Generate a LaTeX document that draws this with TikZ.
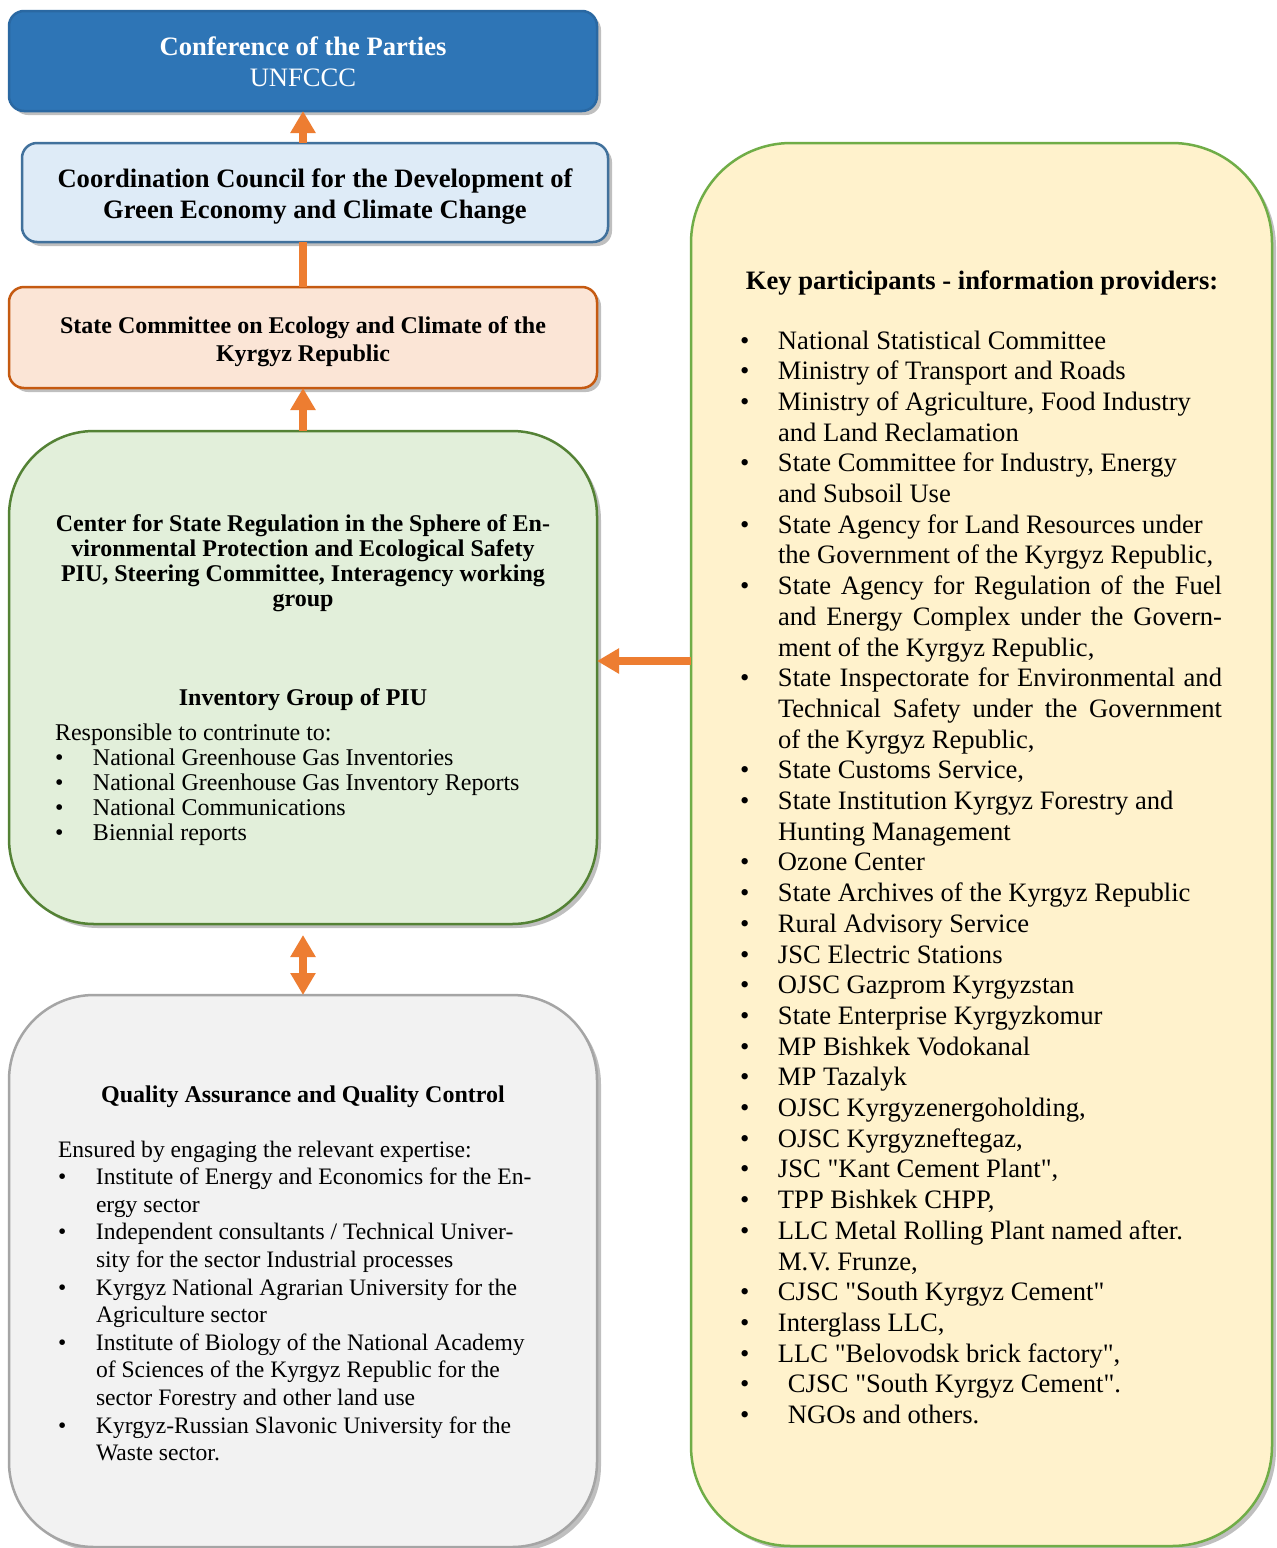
\documentclass[tikz,border=0pt]{standalone}
\usepackage{fontspec}
\setmainfont{Liberation Serif}[Ligatures=TeXOff]
\usetikzlibrary{arrows.meta,shadows,calc}
\definecolor{copfill}{HTML}{2E75B6}
\definecolor{copdraw}{HTML}{2A68A2}
\definecolor{ccdfill}{HTML}{DEEBF7}
\definecolor{ccddraw}{HTML}{41719C}
\definecolor{scefill}{HTML}{FBE5D6}
\definecolor{scedraw}{HTML}{C55A11}
\definecolor{csrfill}{HTML}{E2EFDA}
\definecolor{csrdraw}{HTML}{548235}
\definecolor{qafill}{HTML}{F2F2F2}
\definecolor{qadraw}{HTML}{A5A5A5}
\definecolor{keyfill}{HTML}{FFF2CC}
\definecolor{keydraw}{HTML}{70AD47}
\definecolor{orangearr}{HTML}{ED7D31}
\newlength\bind
\newcommand\bl[1]{\makebox[\bind][l]{\textbullet}#1}
\newcommand\ct[1]{\hspace*{\bind}#1}
\newcommand\js[1]{\makebox[444pt][s]{#1}}
\newcommand\fA{\fontsize{26.6}{31}\selectfont}
\newcommand\fB{\fontsize{24}{28}\selectfont}
\tikzset{
  box/.style={draw, line width=2.5pt, anchor=north west, inner sep=0pt, outer sep=0pt,
    drop shadow={shadow xshift=4pt, shadow yshift=-4pt, opacity=0.25, fill=black}},
  txt/.style={inner sep=0pt, outer sep=0pt},
  arr/.style={draw=orangearr, line width=8pt, -{Triangle[width=24pt,length=22pt]}},
  darr/.style={draw=orangearr, line width=8pt, {Triangle[width=24pt,length=22pt]}-{Triangle[width=24pt,length=22pt]}},
  lnk/.style={draw=orangearr, line width=8pt},
}
\begin{document}
\begin{tikzpicture}[x=1pt,y=-1pt]
\clip (0,0) rectangle (1277,1548);
\fill[white] (0,0) rectangle (1277,1548);
% boxes
\node[box, fill=copfill, draw=copdraw, rounded corners=15pt, minimum width=588pt, minimum height=100pt] (cop) at (9,11) {};
\node[box, fill=ccdfill, draw=ccddraw, rounded corners=15pt, minimum width=586pt, minimum height=99pt] (ccd) at (22,143) {};
\node[box, fill=scefill, draw=scedraw, rounded corners=15pt, minimum width=588pt, minimum height=101pt] (sce) at (9,287) {};
\node[box, fill=csrfill, draw=csrdraw, rounded corners=85pt, minimum width=588pt, minimum height=493pt] (csr) at (9,431) {};
\node[box, fill=qafill, draw=qadraw, rounded corners=85pt, minimum width=588pt, minimum height=552pt] (qa) at (9,995) {};
\node[box, fill=keyfill, draw=keydraw, rounded corners=100pt, minimum width=581pt, minimum height=1403pt] (key) at (691,143) {};
% connectors
\coordinate (ay) at (0,661);
\draw[arr] (ccd.north -| cop.south) -- (cop.south);
\draw[lnk] (sce.north) -- (ccd.south -| sce.north);
\draw[arr] (csr.north) -- (sce.south);
\draw[darr, shorten <=11pt] (csr.south) -- (qa.north);
\draw[arr] (key.west |- ay) -- (csr.east |- ay);
% texts
\node[txt, anchor=base, text=white] (copt) at (303,55) {\parbox[t]{560pt}{\centering\fA\textbf{Conference of the Parties}\\UNFCCC}};
\node[txt, anchor=base] (ccdt) at (315,187) {\parbox[t]{580pt}{\centering\fA\bfseries Coordination Council for the Development of\\Green Economy and Climate Change}};
\node[txt, anchor=base] (scet) at (303,333) {\parbox[t]{560pt}{\centering\fB\bfseries State Committee on Ecology and Climate of the\\Kyrgyz Republic}};
\node[txt, anchor=base] (csrt) at (303,531) {\parbox[t]{560pt}{\centering\fontsize{24}{25}\selectfont\bfseries Center for State Regulation in the Sphere of En-\\vironmental Protection and Ecological Safety\\PIU, Steering Committee, Interagency working\\group}};
\node[txt, anchor=base] (invt) at (303,705) {\fontsize{24}{25}\selectfont\bfseries Inventory Group of PIU};
\node[txt, anchor=base west] (invb) at (55,740) {\parbox[t]{530pt}{\fontsize{24}{25}\selectfont\setlength\bind{38pt}%
Responsible to contrinute to:\\
\bl{National Greenhouse Gas Inventories}\\
\bl{National Greenhouse Gas Inventory Reports}\\
\bl{National Communications}\\
\bl{Biennial reports}}};
\node[txt, anchor=base] (qat) at (303,1102) {\fontsize{24}{25}\selectfont\bfseries Quality Assurance and Quality Control};
\node[txt, anchor=base west] (qab) at (58,1157) {\parbox[t]{530pt}{\fontsize{23.6}{27.6}\selectfont\setlength\bind{38pt}%
Ensured by engaging the relevant expertise:\\
\bl{Institute of Energy and Economics for the En-}\\
\ct{ergy sector}\\
\bl{Independent consultants / Technical Univer-}\\
\ct{sity for the sector Industrial processes}\\
\bl{Kyrgyz National Agrarian University for the}\\
\ct{Agriculture sector}\\
\bl{Institute of Biology of the National Academy}\\
\ct{of Sciences of the Kyrgyz Republic for the}\\
\ct{sector Forestry and other land use}\\
\bl{Kyrgyz-Russian Slavonic University for the}\\
\ct{Waste sector.}}};
\node[txt, anchor=base] (keyt) at (982,289) {\fA\bfseries Key participants - information providers:};
\node[txt, anchor=base west] (keyb) at (740,349) {\parbox[t]{520pt}{\fontsize{26.6}{30.7}\selectfont\setlength\bind{38pt}%
\bl{National Statistical Committee}\\
\bl{Ministry of Transport and Roads}\\
\bl{Ministry of Agriculture, Food Industry}\\
\ct{and Land Reclamation}\\
\bl{State Committee for Industry, Energy}\\
\ct{and Subsoil Use}\\
\bl{State Agency for Land Resources under}\\
\ct{the Government of the Kyrgyz Republic,}\\
\bl{\js{State Agency for Regulation of the Fuel}}\\
\ct{\js{and Energy Complex under the Govern-}}\\
\ct{ment of the Kyrgyz Republic,}\\
\bl{\js{State Inspectorate for Environmental and}}\\
\ct{\js{Technical Safety under the Government}}\\
\ct{of the Kyrgyz Republic,}\\
\bl{State Customs Service,}\\
\bl{State Institution Kyrgyz Forestry and}\\
\ct{Hunting Management}\\
\bl{Ozone Center}\\
\bl{State Archives of the Kyrgyz Republic}\\
\bl{Rural Advisory Service}\\
\bl{JSC Electric Stations}\\
\bl{OJSC Gazprom Kyrgyzstan}\\
\bl{State Enterprise Kyrgyzkomur}\\
\bl{MP Bishkek Vodokanal}\\
\bl{MP Tazalyk}\\
\bl{OJSC Kyrgyzenergoholding,}\\
\bl{OJSC Kyrgyzneftegaz,}\\
\bl{JSC "Kant Cement Plant",}\\
\bl{TPP Bishkek CHPP,}\\
\bl{LLC Metal Rolling Plant named after.}\\
\ct{M.V. Frunze,}\\
\bl{CJSC "South Kyrgyz Cement"}\\
\bl{Interglass LLC,}\\
\bl{LLC "Belovodsk brick factory",}\\
\bl{\hspace*{10pt}CJSC "South Kyrgyz Cement".}\\
\bl{\hspace*{10pt}NGOs and others.}}};
\end{tikzpicture}
\end{document}
